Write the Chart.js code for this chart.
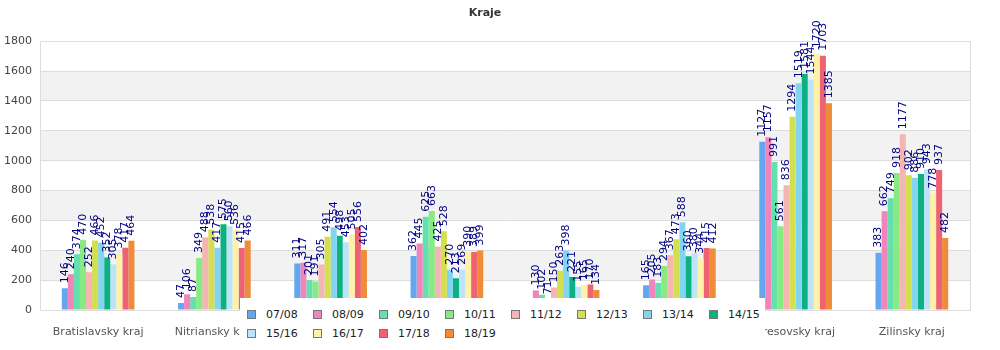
<!DOCTYPE html>
<html>
<head>
<meta charset="utf-8">
<script src="https://cdn.jsdelivr.net/npm/chart.js@4.4.0/dist/chart.umd.min.js"></script>
<style>
body{margin:0;background:#fff;}
#wrap{position:relative;width:1000px;height:350px;}
#legend{position:absolute;left:240px;top:298px;width:525px;height:52px;background:#fff;overflow:hidden;font-family:"DejaVu Sans";font-size:11px;color:#222;}
#legend .inner{position:absolute;left:7px;top:7px;width:540px;}
#legend .item{display:inline-block;width:66px;height:19px;line-height:19px;white-space:nowrap;vertical-align:top;}
#legend .box{display:inline-block;width:7px;height:7px;border:1px solid #777;margin-right:10px;vertical-align:-1px;}
</style>
</head>
<body>
<div id="wrap">
<canvas id="bar-chart" width="1000" height="350"></canvas>
<div id="legend"><div class="inner"></div></div>
</div>
<script>
// kraje a sezony
var regions=["Bratislavsky kraj","Nitriansky kraj","Trnavsky kraj","Trenciansky kraj","Banskobystricky kraj","Kosicky kraj","Presovsky kraj","Zilinsky kraj"];
var seasons=["07/08","08/09","09/10","10/11","11/12","12/13","13/14","14/15","15/16","16/17","17/18","18/19"];

var s0708=[146,47,311,362,0,165,1127,383];
var s0809=[240,106,317,445,130,205,1157,662];
var s0910=[374,87,201,625,102,183,991,749];
var s1011=[470,349,191,663,71,294,561,918];
var s1112=[252,488,305,425,150,367,836,1177];
var s1213=[466,538,491,528,263,473,1294,902];
var s1314=[452,417,554,270,398,588,1519,886];
var s1415=[352,575,498,213,221,360,1581,910];
var s1516=[305,560,453,269,155,380,1544,943];
var s1617=[378,536,505,390,165,344,1720,778];
var s1718=[417,415,556,389,170,415,1703,937];
var s1819=[464,466,402,399,134,412,1385,482];

var yTicks=[0,200,400,600,800,1000,1200,1400,1600,1800];

var colors=["#63a8ef","#f084bb","#63e0ae","#87ea82","#f5b5b3","#d3df4f","#83d4f0","#0db081","#bce3f8","#fff1a8","#ef6272","#ef8c3a"];
var values=[s0708,s0809,s0910,s1011,s1112,s1213,s1314,s1415,s1516,s1617,s1718,s1819];

var datasets=[];
seasons.forEach(function(item,index){
    datasets.push({
        label:item,
        data:values[index],
        backgroundColor:colors[index],
        borderWidth:0,
        barPercentage:1,
        categoryPercentage:0.625
    });
});

// sive pruhy a pravy okraj
var bands={
    id:'bands',
    beforeDraw:function(chart){
        var ctx=chart.ctx,a=chart.chartArea,y=chart.scales.y;
        ctx.save();
        ctx.fillStyle="#f2f2f2";
        for(var i=1;i<yTicks.length-1;i+=2){
            var top=y.getPixelForValue(yTicks[i+1]);
            var bot=y.getPixelForValue(yTicks[i]);
            ctx.fillRect(a.left,top,a.right-a.left,bot-top);
        }
        ctx.restore();
    },
    afterDraw:function(chart){
        var ctx=chart.ctx,a=chart.chartArea;
        ctx.save();
        ctx.strokeStyle="#dddddd";
        ctx.lineWidth=1;
        ctx.beginPath();
        ctx.moveTo(Math.round(a.right)+0.5,a.top);
        ctx.lineTo(Math.round(a.right)+0.5,a.bottom);
        ctx.stroke();
        ctx.restore();
    }
};

// cisla nad stlpcami
var barLabels={
    id:'barLabels',
    afterDatasetsDraw:function(chart){
        var ctx=chart.ctx;
        ctx.save();
        ctx.fillStyle="#000080";
        ctx.font="11px 'DejaVu Sans'";
        ctx.textAlign="left";
        ctx.textBaseline="middle";
        chart.data.datasets.forEach(function(ds,di){
            var meta=chart.getDatasetMeta(di);
            meta.data.forEach(function(bar,i){
                ctx.save();
                ctx.translate(bar.x,bar.y-5);
                ctx.rotate(-Math.PI/2);
                ctx.fillText(String(ds.data[i]),0,0);
                ctx.restore();
            });
        });
        ctx.restore();
    }
};

new Chart(document.getElementById("bar-chart"),{
    type:'bar',
    data:{labels:regions,datasets:datasets},
    plugins:[bands,barLabels],
    options:{
        responsive:false,
        animation:false,
        devicePixelRatio:1,
        layout:{padding:{left:0,right:30,top:0,bottom:0}},
        plugins:{
            legend:{display:false},
            tooltip:{enabled:false},
            title:{
                display:true,
                text:'Kraje',
                color:'#333',
                font:{family:'DejaVu Sans',size:11,weight:'bold'},
                padding:{top:7,bottom:21}
            }
        },
        scales:{
            x:{
                grid:{display:false},
                border:{color:'#dddddd'},
                ticks:{color:'#555',font:{family:'DejaVu Sans',size:11},maxRotation:0,minRotation:0,autoSkip:false,padding:8},
                afterFit:function(s){s.height=40;}
            },
            y:{
                min:0,max:1800,
                grid:{color:'#dddddd',drawTicks:false},
                border:{color:'#dddddd'},
                ticks:{
                    stepSize:200,color:'#444',font:{family:'DejaVu Sans',size:11},padding:8,
                    callback:function(v){return String(v);}
                },
                afterFit:function(s){s.width=40;}
            }
        }
    }
});

// legenda
var inner=document.querySelector('#legend .inner');
seasons.forEach(function(item,index){
    var it=document.createElement('span');
    it.className='item';
    it.innerHTML='<span class="box" style="background:'+colors[index]+'"></span>'+item;
    inner.appendChild(it);
    if(index==7){inner.appendChild(document.createElement('br'));}
});
</script>
</body>
</html>
